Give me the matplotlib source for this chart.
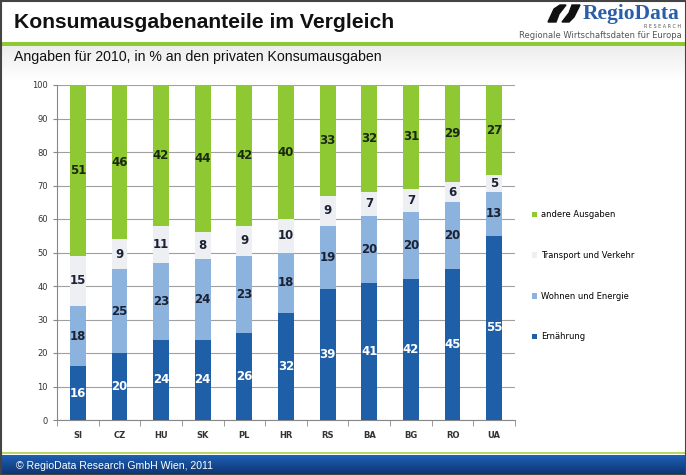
import matplotlib
matplotlib.use("Agg")
import matplotlib.pyplot as plt
import numpy as np
from matplotlib.patches import Rectangle, Polygon

countries = ["SI", "CZ", "HU", "SK", "PL", "HR", "RS", "BA", "BG", "RO", "UA"]
ernaehrung = [16, 20, 24, 24, 26, 32, 39, 41, 42, 45, 55]
wohnen = [18, 25, 23, 24, 23, 18, 19, 20, 20, 20, 13]
transport = [15, 9, 11, 8, 9, 10, 9, 7, 7, 6, 5]
andere = [51, 46, 42, 44, 42, 40, 33, 32, 31, 29, 27]
series_names = ["Ernährung", "Wohnen und Energie", "Transport und Verkehr", "andere Ausgaben"]

colors = ["#1f5fa8", "#8cb2de", "#eeeff3", "#8ec832"]
label_colors = ["white", "#1a2233", "#1a2233", "#1a2a10"]

fig = plt.figure(figsize=(6.86, 4.75), dpi=100)

# header background and lines
bg = fig.add_axes([0, 0, 1, 1], zorder=-10)
bg.set_xlim(0, 686)
bg.set_ylim(475, 0)
bg.axis("off")
grad = np.linspace(0.93, 1.0, 50).reshape(-1, 1)
bg.imshow(np.dstack([grad, grad, grad]), extent=[0, 686, 80, 46], aspect="auto")
bg.add_patch(Rectangle((0, 42), 686, 3.5, color="#8ec832", lw=0))
bg.add_patch(Rectangle((0, 452), 686, 2, color="#b5d86a", lw=0))
fgrad = np.linspace(0, 1, 30).reshape(-1, 1)
top = np.array([0.12, 0.38, 0.70])
bot = np.array([0.05, 0.20, 0.45])
fimg = top + (bot - top) * fgrad[..., None]
bg.imshow(fimg, extent=[0, 686, 475, 455], aspect="auto")
bg.add_patch(Rectangle((0.5, 0.5), 685, 474, fill=False, ec="#444444", lw=1.5))

# logo mark
bg.add_patch(Polygon([[548, 22], [554, 9], [560, 5], [566, 5], [559, 14], [556, 22]], color="#111111"))
bg.add_patch(Polygon([[562, 22], [569, 13], [572, 5], [580, 5], [574, 17], [569, 22]], color="#111111"))
bg.text(583, 14, "RegioData", fontsize=15.5, fontweight="bold", family="Liberation Serif",
        color="#2a5ea8", va="center", ha="left")
bg.text(681, 26, "R E S E A R C H", fontsize=3.5, color="#555555", ha="right", va="center")
bg.text(682, 35, "Regionale Wirtschaftsdaten für Europa", fontsize=6, color="#555555",
        ha="right", va="center")

fig.text(14 / 686, 1 - 22 / 475, "Konsumausgabenanteile im Vergleich", fontsize=15.2,
         fontweight="bold", color="#111111", va="center", family="Liberation Sans")
fig.text(14 / 686, 1 - 57 / 475, "Angaben für 2010, in % an den privaten Konsumausgaben",
         fontsize=10.2, color="#111111", va="center", family="Liberation Sans")
fig.text(16 / 686, 1 - 466 / 475, "© RegioData Research GmbH Wien, 2011", fontsize=7.6,
         color="white", va="center", family="Liberation Sans")

ax = fig.add_axes([57 / 686, 1 - 420 / 475, 458 / 686, 335 / 475])
x = np.arange(len(countries))
bottom = np.zeros(len(countries))
handles = []
for vals, name, col, lc in zip([ernaehrung, wohnen, transport, andere], series_names, colors, label_colors):
    b = ax.bar(x, vals, 0.38, bottom=bottom, color=col, label=name, zorder=3)
    handles.append(b)
    for xi, v, b0 in zip(x, vals, bottom):
        ax.text(xi, b0 + v / 2, str(v), ha="center", va="center", fontsize=8.5,
                fontweight="bold", color=lc, zorder=4)
    bottom += np.array(vals)

ax.set_xlim(-0.5, len(countries) - 0.5)
ax.set_ylim(0, 100)
ax.set_yticks(range(0, 101, 10))
ax.yaxis.grid(True, color="#a0a0a0", lw=0.8, zorder=0)
ax.set_xticks(x)
ax.set_xticklabels(countries, fontsize=6, fontweight="bold", color="#333333")
ax.set_xticks(np.arange(-0.5, len(countries), 1), minor=True)
ax.tick_params(axis="x", which="major", length=0, pad=8)
ax.tick_params(axis="x", which="minor", length=4, color="#888888", direction="out")
ax.tick_params(axis="y", labelsize=6, labelcolor="#333333", length=3, color="#888888")
for s in ["top", "right"]:
    ax.spines[s].set_visible(False)
ax.spines["left"].set_color("#888888")
ax.spines["bottom"].set_color("#888888")
ax.set_facecolor("none")

leg = ax.legend(handles[::-1], series_names[::-1], loc="center left",
                bbox_to_anchor=(1.02, 0.43), frameon=False, fontsize=6,
                labelspacing=3.8, handlelength=0.7, handleheight=0.7, handletextpad=0.4)

fig.savefig("out.png", dpi=100)
